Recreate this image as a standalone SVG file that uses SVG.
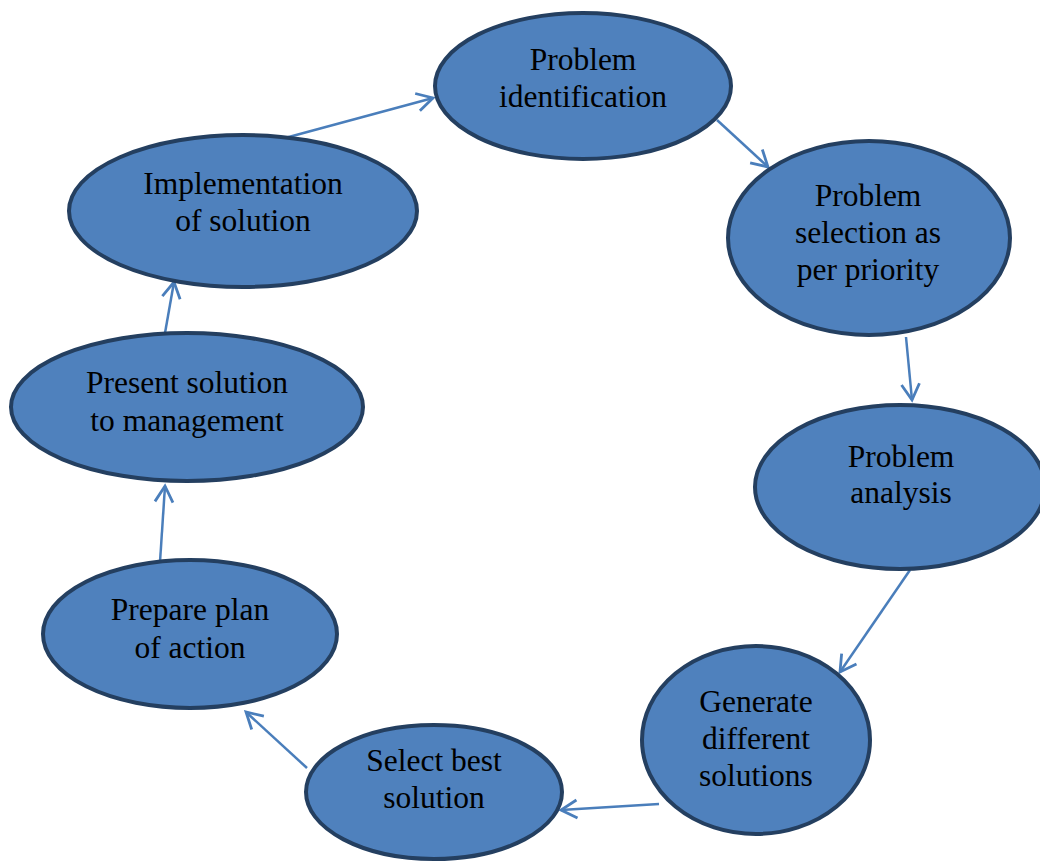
<svg xmlns="http://www.w3.org/2000/svg" width="1040" height="863" viewBox="0 0 1040 863">
<style>
.n ellipse{fill:#4f81bd;stroke:#243f60;stroke-width:4}
.n text{font-family:"Liberation Serif","Times New Roman",serif;font-size:31.5px;fill:#000;text-anchor:middle}
.c line{stroke:#4a7ebb;stroke-width:2.5;fill:none}
</style>
<defs>
<marker id="ah" markerWidth="22" markerHeight="22" refX="18" refY="11" orient="auto" markerUnits="userSpaceOnUse">
<path d="M2,2 L18,11 L2,20" fill="none" stroke="#4a7ebb" stroke-width="2.8"/>
</marker>
</defs>
<rect width="1040" height="863" fill="#fff"/>
<g class="c">
<line x1="285" y1="138" x2="433" y2="98" marker-end="url(#ah)"/>
<line x1="717" y1="120" x2="768" y2="167" marker-end="url(#ah)"/>
<line x1="906" y1="337" x2="912" y2="400" marker-end="url(#ah)"/>
<line x1="910" y1="570" x2="840" y2="672" marker-end="url(#ah)"/>
<line x1="659" y1="804" x2="561" y2="810" marker-end="url(#ah)"/>
<line x1="307" y1="768" x2="246" y2="712" marker-end="url(#ah)"/>
<line x1="160" y1="562" x2="165" y2="486" marker-end="url(#ah)"/>
<line x1="165" y1="333" x2="174" y2="282" marker-end="url(#ah)"/>
</g>
<g id="n1" class="n"><ellipse cx="583" cy="86" rx="148" ry="73"/><text x="583" y="70">Problem</text><text x="583" y="107">identification</text></g>
<g id="n2" class="n"><ellipse cx="869" cy="238" rx="141" ry="97"/><text x="868" y="206">Problem</text><text x="868" y="243">selection as</text><text x="868" y="280">per priority</text></g>
<g id="n3" class="n"><ellipse cx="900" cy="487" rx="145" ry="82"/><text x="901" y="467">Problem</text><text x="901" y="503">analysis</text></g>
<g id="n4" class="n"><ellipse cx="756" cy="740" rx="114" ry="94"/><text x="756" y="712">Generate</text><text x="756" y="749">different</text><text x="756" y="786">solutions</text></g>
<g id="n5" class="n"><ellipse cx="434" cy="792" rx="128" ry="67"/><text x="434" y="771">Select best</text><text x="434" y="808">solution</text></g>
<g id="n6" class="n"><ellipse cx="190" cy="634" rx="147" ry="74"/><text x="190" y="620">Prepare plan</text><text x="190" y="658">of action</text></g>
<g id="n7" class="n"><ellipse cx="187" cy="407" rx="176" ry="74"/><text x="187" y="393">Present solution</text><text x="187" y="431">to management</text></g>
<g id="n8" class="n"><ellipse cx="243" cy="211" rx="174" ry="76"/><text x="243" y="194">Implementation</text><text x="243" y="231">of solution</text></g>
</svg>
